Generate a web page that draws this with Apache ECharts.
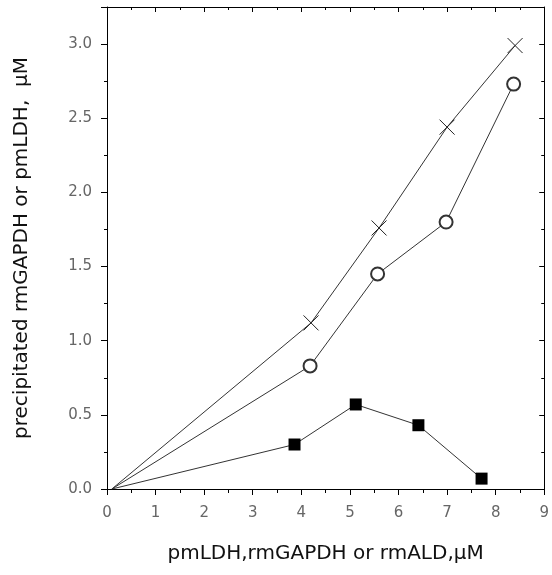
<!DOCTYPE html>
<html><head><meta charset="utf-8">
<script src="https://cdn.jsdelivr.net/npm/echarts@6/dist/echarts.min.js"></script>
<style>html,body{margin:0;padding:0;background:#fff}#c{width:552px;height:575px}</style>
</head><body><div id="c"></div>
<script>
const xTitle = 'pmLDH,rmGAPDH or rmALD,\u03bcM';
const yTitle = 'precipitated rmGAPDH or pmLDH,  \u03bcM';
const crossX = [0.1, 4.2, 5.6, 7.0, 8.4];
const crossY = [0.0, 1.12, 1.76, 2.44, 2.99];
const circleX = [0.1, 4.18, 5.57, 6.98, 8.37];
const circleY = [0.0, 0.83, 1.45, 1.80, 2.73];
const squareX = [0.1, 3.86, 5.12, 6.41, 7.71];
const squareY = [0.0, 0.30, 0.57, 0.43, 0.07];

function pts(xs, ys) {
  return xs.map((x, i) => i === 0 ? {value: [x, ys[i]], symbol: 'none'} : [x, ys[i]]);
}
const font = 'DejaVu Sans, Verdana, sans-serif';
const chart = echarts.init(document.getElementById('c'));
const lineCol = '#333';
chart.setOption({
  animation: false,
  grid: {left: 107, top: 7, right: 4, bottom: 86},
  xAxis: [{
    type: 'value', min: 0, max: 9, interval: 1,
    axisLine: {onZero: false, lineStyle: {color: '#000', width: 1}},
    axisTick: {length: 6, inside: false, lineStyle: {color: '#000'}},
    minorTick: {show: true, splitNumber: 2, length: 4, lineStyle: {color: '#000'}},
    splitLine: {show: false},
    axisLabel: {color: '#666', fontSize: 15, fontFamily: font, margin: 17},
    name: xTitle, nameLocation: 'middle', nameGap: 55,
    nameTextStyle: {color: '#111', fontSize: 20, fontFamily: font}
  }, {
    type: 'value', min: 0, max: 9, interval: 1, position: 'top',
    axisLine: {show: true, onZero: false, lineStyle: {color: '#000'}},
    axisTick: {inside: true, length: 5, lineStyle: {color: '#000'}},
    minorTick: {show: true, splitNumber: 2, length: 3, lineStyle: {color: '#000'}},
    axisLabel: {show: false}, splitLine: {show: false}
  }],
  yAxis: [{
    type: 'value', min: 0, max: 3.25, interval: 0.5,
    axisLine: {show: true, onZero: false, lineStyle: {color: '#000'}},
    axisTick: {length: 6, lineStyle: {color: '#000'}},
    minorTick: {show: true, splitNumber: 2, length: 3, lineStyle: {color: '#000'}},
    splitLine: {show: false},
    axisLabel: {color: '#666', fontSize: 15, fontFamily: font, margin: 15, showMaxLabel: false,
      formatter: v => v.toFixed(1)},
    name: yTitle, nameLocation: 'middle', nameGap: 75, nameRotate: 90,
    nameTextStyle: {color: '#111', fontSize: 20, fontFamily: font}
  }, {
    type: 'value', min: 0, max: 3.25, interval: 0.5, position: 'right',
    axisLine: {show: true, onZero: false, lineStyle: {color: '#000'}},
    axisTick: {inside: true, length: 5, lineStyle: {color: '#000'}},
    minorTick: {show: true, splitNumber: 2, length: 3, lineStyle: {color: '#000'}},
    axisLabel: {show: false}, splitLine: {show: false}
  }],
  series: [{
    type: 'line', data: pts(crossX, crossY),
    symbol: 'path://M0,0L10,10M10,0L0,10', symbolSize: 15,
    itemStyle: {color: 'rgba(0,0,0,0)', borderColor: '#222', borderWidth: 1},
    lineStyle: {color: lineCol, width: 1}
  }, {
    type: 'line', data: pts(circleX, circleY),
    symbol: 'emptyCircle', symbolSize: 13,
    itemStyle: {color: '#333', borderColor: '#333', borderWidth: 1},
    lineStyle: {color: lineCol, width: 1}
  }, {
    type: 'line', data: pts(squareX, squareY),
    symbol: 'rect', symbolSize: 12,
    itemStyle: {color: '#000'},
    lineStyle: {color: lineCol, width: 1}
  }]
});
</script></body></html>
